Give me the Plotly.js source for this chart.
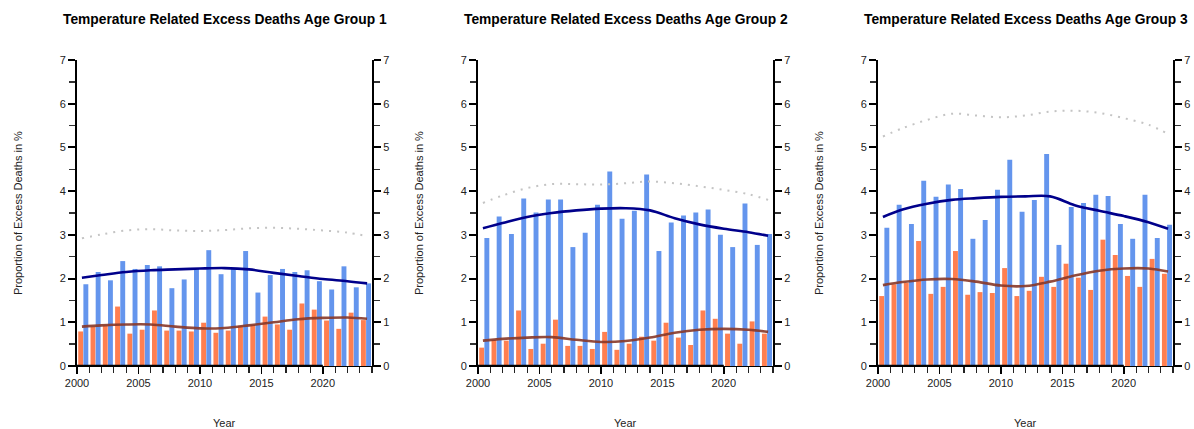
<!DOCTYPE html>
<html>
<head>
<meta charset="utf-8">
<script src="https://cdn.plot.ly/plotly-3.0.1.min.js"></script>
<style>html,body{margin:0;padding:0;background:#fff;}#chart{width:1194px;height:429px;}</style>
</head>
<body>
<div id="chart"></div>
<script>
// ---- Data ----
const years = [2000,2001,2002,2003,2004,2005,2006,2007,2008,2009,2010,2011,2012,2013,2014,2015,2016,2017,2018,2019,2020,2021,2022,2023];

const orange1 = [0.79,0.90,0.93,1.36,0.74,0.83,1.27,0.81,0.81,0.79,0.99,0.76,0.81,0.92,0.94,1.13,0.95,0.83,1.43,1.29,1.04,0.85,1.22,1.05];
const blue1   = [1.87,2.15,1.96,2.40,2.22,2.31,2.28,1.78,1.98,2.22,2.65,2.10,2.24,2.63,1.68,2.08,2.22,2.15,2.19,1.94,1.75,2.28,1.80,1.89];

const orange2 = [0.42,0.60,0.58,1.27,0.39,0.51,1.06,0.46,0.46,0.39,0.78,0.37,0.51,0.67,0.58,0.99,0.65,0.48,1.27,1.08,0.74,0.51,1.02,0.74];
const blue2   = [2.93,3.42,3.02,3.83,3.51,3.81,3.81,2.72,3.05,3.69,4.45,3.37,3.55,4.38,2.63,3.28,3.44,3.51,3.58,3.00,2.72,3.72,2.77,3.02];

const orange3 = [1.60,1.87,1.90,2.86,1.65,1.81,2.63,1.63,1.69,1.67,2.24,1.60,1.72,2.04,1.81,2.34,2.02,1.74,2.89,2.54,2.06,1.81,2.45,2.11];
const blue3   = [3.16,3.69,3.25,4.24,3.87,4.15,4.05,2.91,3.34,4.03,4.72,3.53,3.80,4.85,2.77,3.64,3.73,3.92,3.89,3.25,2.91,3.92,2.93,3.23];

const smoothX = [2000.4,2002,2004,2006,2008,2010,2012,2014,2016,2018,2020,2022,2023.6];
const smoothBlue1 = [2.02,2.08,2.15,2.19,2.21,2.23,2.24,2.21,2.13,2.06,1.99,1.94,1.89];
const smoothRed1  = [0.90,0.93,0.95,0.95,0.90,0.86,0.87,0.93,1.00,1.07,1.10,1.11,1.08];
const dotted1     = [2.92,3.01,3.10,3.13,3.10,3.09,3.11,3.15,3.16,3.14,3.10,3.05,2.97];

const smoothBlue2 = [3.15,3.27,3.41,3.50,3.56,3.60,3.61,3.56,3.38,3.24,3.14,3.06,2.98];
const smoothRed2  = [0.58,0.62,0.65,0.66,0.60,0.55,0.57,0.65,0.76,0.83,0.85,0.83,0.78];
const dotted2     = [3.73,3.90,4.07,4.16,4.16,4.15,4.18,4.22,4.18,4.11,4.03,3.93,3.80];

const smoothBlue3 = [3.41,3.58,3.71,3.80,3.84,3.87,3.88,3.88,3.68,3.55,3.43,3.29,3.14];
const smoothRed3  = [1.85,1.92,1.98,1.99,1.93,1.84,1.83,1.93,2.07,2.18,2.23,2.23,2.16];
const dotted3     = [5.25,5.44,5.63,5.77,5.73,5.69,5.73,5.82,5.84,5.79,5.67,5.52,5.31];

const titles = ["Temperature Related Excess Deaths Age Group 1",
                "Temperature Related Excess Deaths Age Group 2",
                "Temperature Related Excess Deaths Age Group 3"];
const xTitle = "Year";
const yTitle = "Proportion of Excess Deaths in %";

// ---- Build ----
const panels = [
  {o: orange1, b: blue1, sb: smoothBlue1, sr: smoothRed1, d: dotted1},
  {o: orange2, b: blue2, sb: smoothBlue2, sr: smoothRed2, d: dotted2},
  {o: orange3, b: blue3, sb: smoothBlue3, sr: smoothRed3, d: dotted3}
];
const xDomains = [[77/1194, 372/1194],[478/1194, 773/1194],[878/1194, 1173/1194]];
const yDomain = [63/429, 369/429];
const FONT = "Liberation Sans, Arial, sans-serif";

const traces = [];
const layout = {
  width: 1194, height: 429,
  margin: {l:0, r:0, t:0, b:0},
  paper_bgcolor: "#fff", plot_bgcolor: "#fff",
  showlegend: false,
  barmode: "overlay",
  font: {family: FONT, size: 11, color: "#222"},
  annotations: [], shapes: []
};

panels.forEach((p, i) => {
  const n = i + 1;
  const xa = "x" + (n === 1 ? "" : n);
  const yL = 2*i + 1, yR = 2*i + 2;
  const yaL = "y" + (yL === 1 ? "" : yL);
  const yaR = "y" + yR;

  traces.push({type: "bar", x: years, y: p.o, xaxis: xa, yaxis: yaL,
    marker: {color: "#FF7F50", line: {width: 0}}, width: 0.4, offset: 0.1, hoverinfo: "skip"});
  traces.push({type: "bar", x: years, y: p.b, xaxis: xa, yaxis: yaL,
    marker: {color: "#6495ED", line: {width: 0}}, width: 0.4, offset: 0.52, hoverinfo: "skip"});
  traces.push({type: "scatter", mode: "lines", x: smoothX, y: p.d, xaxis: xa, yaxis: yaR,
    line: {color: "#c4c4c4", width: 2, dash: "2px,6px", shape: "spline", smoothing: 1}, hoverinfo: "skip"});
  traces.push({type: "scatter", mode: "lines", x: smoothX, y: p.sr, xaxis: xa, yaxis: yaL,
    line: {color: "rgba(135,55,40,0.9)", width: 2.6, shape: "spline", smoothing: 1}, hoverinfo: "skip"});
  traces.push({type: "scatter", mode: "lines", x: smoothX, y: p.sb, xaxis: xa, yaxis: yaL,
    line: {color: "#00008B", width: 2.6, shape: "spline", smoothing: 1}, hoverinfo: "skip"});

  const xKey = "xaxis" + (n === 1 ? "" : n);
  layout[xKey] = {
    domain: xDomains[i], anchor: yaL, range: [2000, 2024],
    tickmode: "linear", tick0: 2000, dtick: 5,
    ticks: "outside", ticklen: 7, tickwidth: 1.6, tickcolor: "#000",
    minor: {dtick: 1, tick0: 2000, ticks: "outside", ticklen: 6, tickwidth: 1.2, tickcolor: "#222", showgrid: false},
    showline: true, linecolor: "#000", linewidth: 1.2,
    showgrid: false, zeroline: false, fixedrange: true,
    tickfont: {family: FONT, size: 11, color: "#222"}
  };
  const yCommon = {
    domain: yDomain, range: [0, 7], tickmode: "linear", tick0: 0, dtick: 1,
    ticks: "outside", ticklen: 7, tickwidth: 2, tickcolor: "#000",
    minor: {dtick: 0.5, tick0: 0, ticks: "outside", ticklen: 6, tickwidth: 1.3, tickcolor: "#333", showgrid: false},
    showline: true, linecolor: "#000", linewidth: 2,
    showgrid: false, zeroline: false, fixedrange: true,
    tickfont: {family: FONT, size: 11, color: "#222"}
  };
  layout["yaxis" + (yL === 1 ? "" : yL)] = Object.assign({}, yCommon, {anchor: xa, side: "left"});
  layout["yaxis" + yR] = Object.assign({}, yCommon, {anchor: xa, side: "right", overlaying: yaL});

  // thick axis segment between first and last labelled x tick (R style)
  layout.shapes.push({type: "line", xref: xa, yref: yaL, x0: 2000, x1: 2020, y0: 0, y1: 0,
    line: {color: "#000", width: 2.4}, layer: "above"});

  const cx = (xDomains[i][0] + xDomains[i][1]) / 2;
  layout.annotations.push({text: "<b>" + titles[i] + "</b>", xref: "paper", yref: "paper",
    x: cx, y: 1 - 20/429, xanchor: "center", yanchor: "middle", showarrow: false,
    font: {family: FONT, size: 13.8, color: "#000"}});
  layout.annotations.push({text: xTitle, xref: "paper", yref: "paper",
    x: cx, y: 1 - 423/429, xanchor: "center", yanchor: "middle", showarrow: false,
    font: {family: FONT, size: 11, color: "#222"}});
  layout.annotations.push({text: yTitle, xref: "paper", yref: "paper",
    x: (xDomains[i][0]*1194 - 59)/1194, y: 1 - 213/429, xanchor: "center", yanchor: "middle",
    textangle: -90, showarrow: false, font: {family: FONT, size: 11, color: "#222"}});
});

Plotly.newPlot("chart", traces, layout, {staticPlot: true, displayModeBar: false});
</script>
</body>
</html>
